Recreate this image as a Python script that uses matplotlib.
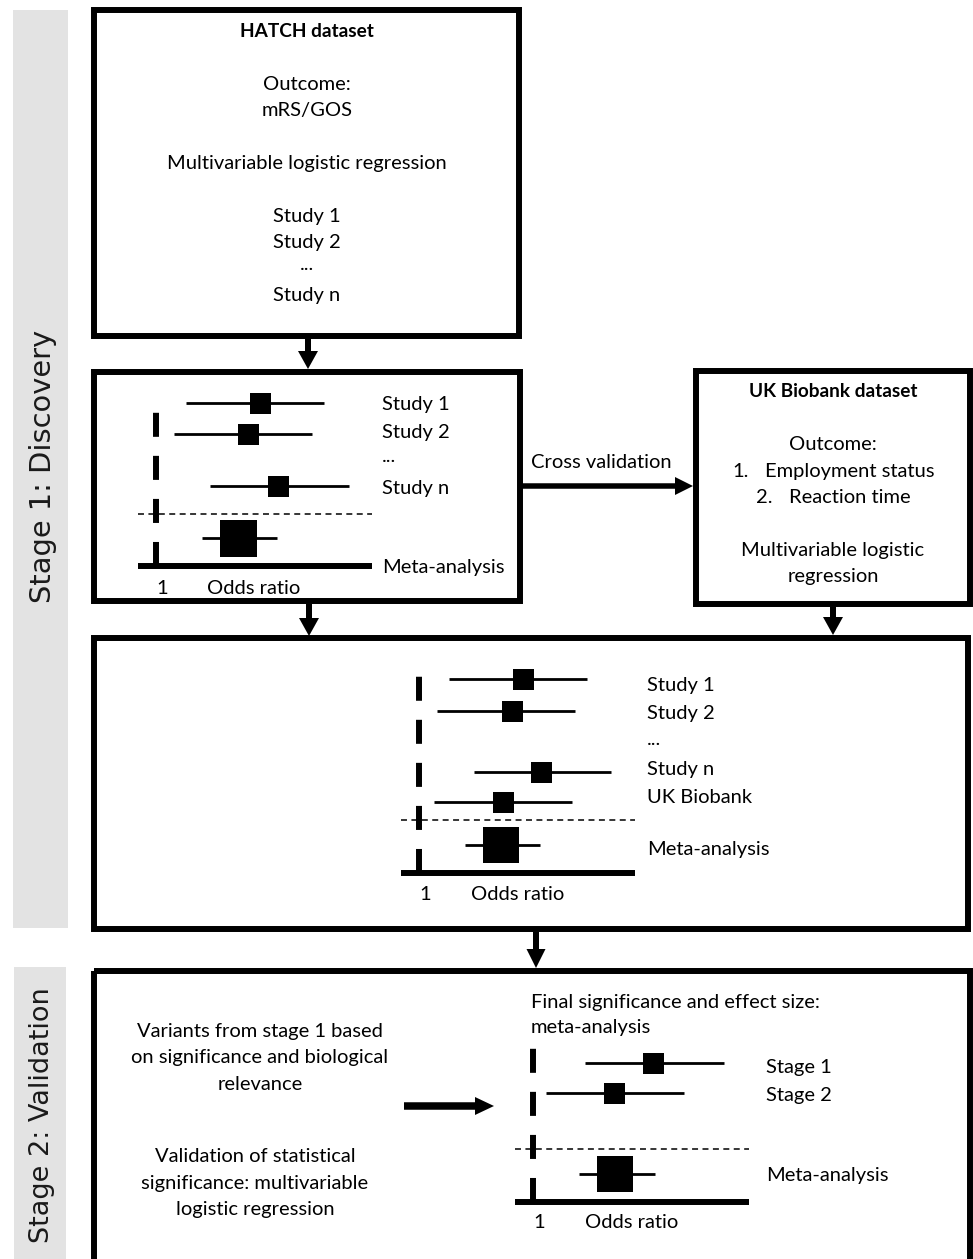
import matplotlib
matplotlib.use("Agg")
import matplotlib.pyplot as plt
from matplotlib.patches import Rectangle, FancyArrow

plt.rcParams['lines.scale_dashes'] = False

# ---------------- data ----------------
# Stage 1 (HATCH) forest plot
s1_labels = ["Study 1", "Study 2", "Study n", "Meta-analysis"]
s1_est = [1.52, 1.46, 1.61, 1.41]
s1_lo = [1.15, 1.09, 1.27, 1.23]
s1_hi = [1.84, 1.78, 1.965, 1.605]

# Combined (HATCH + UK Biobank) forest plot
c_labels = ["Study 1", "Study 2", "Study n", "UK Biobank", "Meta-analysis"]
c_est = [1.52, 1.465, 1.61, 1.42, 1.41]
c_lo = [1.15, 1.09, 1.275, 1.075, 1.23]
c_hi = [1.84, 1.78, 1.96, 1.765, 1.605]

# Stage 2 forest plot
s2_labels = ["Stage 1", "Stage 2", "Meta-analysis"]
s2_est = [1.60, 1.405, 1.41]
s2_lo = [1.26, 1.065, 1.23]
s2_hi = [1.955, 1.755, 1.61]

OR_MIN, OR_MAX = 0.91, 2.08

hatch_lines = ["Outcome:", "mRS/GOS", "", "Multivariable logistic regression", "",
               "Study 1", "Study 2", "...", "Study n"]
ukb_outcomes = [("1.", "Employment status"), ("2.", "Reaction time")]

# ---------------- figure ----------------
W, H = 973, 1259
fig = plt.figure(figsize=(W / 100, H / 100), dpi=100)
ax = fig.add_axes([0, 0, 1, 1])
ax.set_xlim(0, W)
ax.set_ylim(H, 0)
ax.axis('off')

FONT = "Lato"
FS = 14.5
FS_BOLD = 13.7
BLW = 4.3  # box line width (pt)

def txt(x, y, s, ha='center', **kw):
    kw.setdefault('fontsize', FS)
    kw.setdefault('family', FONT)
    ax.text(x, y, s, ha=ha, va='center', color='black', **kw)

def box(x0, y0, x1, y1):
    ax.add_patch(Rectangle((x0, y0), x1 - x0, y1 - y0, fill=False, ec='black',
                           lw=BLW, joinstyle='miter', clip_on=False))

def arrow(x, y, dx, dy, width=6, hw=20, hl=18):
    ax.add_patch(FancyArrow(x, y, dx, dy, width=width, head_width=hw, head_length=hl,
                            length_includes_head=True, color='black', lw=0))

# stage bands
ax.add_patch(Rectangle((13, 10), 55, 918, color='#e3e3e3', lw=0))
ax.add_patch(Rectangle((14, 967), 52, 300, color='#e3e3e3', lw=0))
ax.text(43, 466, "Stage 1: Discovery", rotation=90, ha='center', va='center',
        fontsize=20.8, family='DejaVu Sans', color='#1a1a1a')
ax.text(42, 1115, "Stage 2: Validation", rotation=90, ha='center', va='center',
        fontsize=19.5, family='DejaVu Sans', color='#1a1a1a')

# boxes
box(94, 10, 519, 336)
box(94, 372, 519.5, 601)
box(695.5, 370.5, 970, 604)
box(94, 638, 968, 929)
box(94, 970.5, 970, 1300)

# arrows
arrow(308, 339, 0, 30)
arrow(522, 486, 171, 0, width=5.5, hw=18, hl=18)
arrow(309, 604, 0, 32)
arrow(833, 607, 0, 28)
arrow(536, 932, 0, 36, width=6, hw=19, hl=19)
arrow(404, 1106, 90, 0, width=7.5, hw=18, hl=19)

# HATCH box text
txt(307, 31, "HATCH dataset", weight='bold', fontsize=FS_BOLD)
y = 84
for line in hatch_lines:
    if line == "...":
        txt(307, y - 4, line)
    elif line:
        txt(307, y, line)
    y += 26.4

# UK Biobank box text
txt(833, 391, "UK Biobank dataset", weight='bold', fontsize=FS_BOLD)
txt(833, 444, "Outcome:")
for (num, lab), (xn, xl), yy in zip(ukb_outcomes, [(732, 765), (756, 789)], [471, 497]):
    txt(xn, yy, num, ha='left')
    txt(xl, yy, lab, ha='left')
txt(833, 550, "Multivariable logistic")
txt(833, 576, "regression")
txt(601, 462, "Cross validation")

# ---------------- forest plots ----------------
def forest(x_one, y_top, y_axis, est, lo, hi, rows_y, sizes, sep_y):
    # x_one: pixel position of OR = 1
    px_per = 200.0
    xl = x_one + (OR_MIN - 1) * px_per
    xr = x_one + (OR_MAX - 1) * px_per
    fa = fig.add_axes([xl / W, 1 - y_axis / H, (xr - xl) / W, (y_axis - y_top) / H])
    fa.set_xlim(OR_MIN, OR_MAX)
    fa.set_ylim(y_axis, y_top)
    fa.axis('off')
    fa.axvline(1, color='black', lw=4.3, linestyle=(0, (17.3, 13.7)),
               solid_capstyle='butt', dash_capstyle='butt', clip_on=False)
    fa.axhline(sep_y, color='black', lw=1.1, linestyle=(0, (4.3, 3.2)), clip_on=False)
    fa.axhline(y_axis, color='black', lw=4.3, solid_capstyle='butt', clip_on=False)
    fa.hlines(rows_y, lo, hi, color='black', lw=2.0, clip_on=False)
    for e, r, s in zip(est, rows_y, sizes):
        fa.plot([e], [r], marker='s', ms=s * 0.72, mew=0, color='black', clip_on=False)
    return fa

forest(156, 412, 566, s1_est, s1_lo, s1_hi, [403, 434, 486, 538], [21, 21, 21, 37], 514)
forest(419, 675, 873, c_est, c_lo, c_hi, [679, 711, 772, 802, 845], [21, 21, 21, 21, 36], 820)
forest(533, 1048, 1202, s2_est, s2_lo, s2_hi, [1063, 1093, 1174], [21, 21, 36], 1149)

# forest labels, box 2
for lab, yy in zip(s1_labels[:2], [404, 432]):
    txt(382, yy, lab, ha='left')
txt(382, 456, "...", ha='left')
txt(382, 488, s1_labels[2], ha='left')
txt(382, 567, s1_labels[3], ha='left')
txt(162, 588, "1")
txt(254, 588, "Odds ratio")

# forest labels, box 3
txt(647, 685, c_labels[0], ha='left')
txt(647, 713, c_labels[1], ha='left')
txt(647, 739, "...", ha='left')
txt(647, 769, c_labels[2], ha='left')
txt(647, 797, c_labels[3], ha='left')
txt(647, 849, c_labels[4], ha='left')
txt(425, 894, "1")
txt(517.5, 894, "Odds ratio")

# stage 2 box
txt(531, 1002, "Final significance and effect size:", ha='left')
txt(531, 1028, "meta-analysis", ha='left')
txt(766, 1068, s2_labels[0], ha='left')
txt(766, 1096, s2_labels[1], ha='left')
txt(766, 1176, s2_labels[2], ha='left')
txt(539, 1223, "1")
txt(632, 1223, "Odds ratio")

for s, yy in zip(["Variants from stage 1 based", "on significance and biological", "relevance"],
                 [1032, 1058, 1084]):
    txt(260, yy, s)
for s, yy in zip(["Validation of statistical", "significance: multivariable", "logistic regression"],
                 [1157, 1184, 1210]):
    txt(255, yy, s)

fig.savefig("out.png", dpi=100, facecolor='white')
